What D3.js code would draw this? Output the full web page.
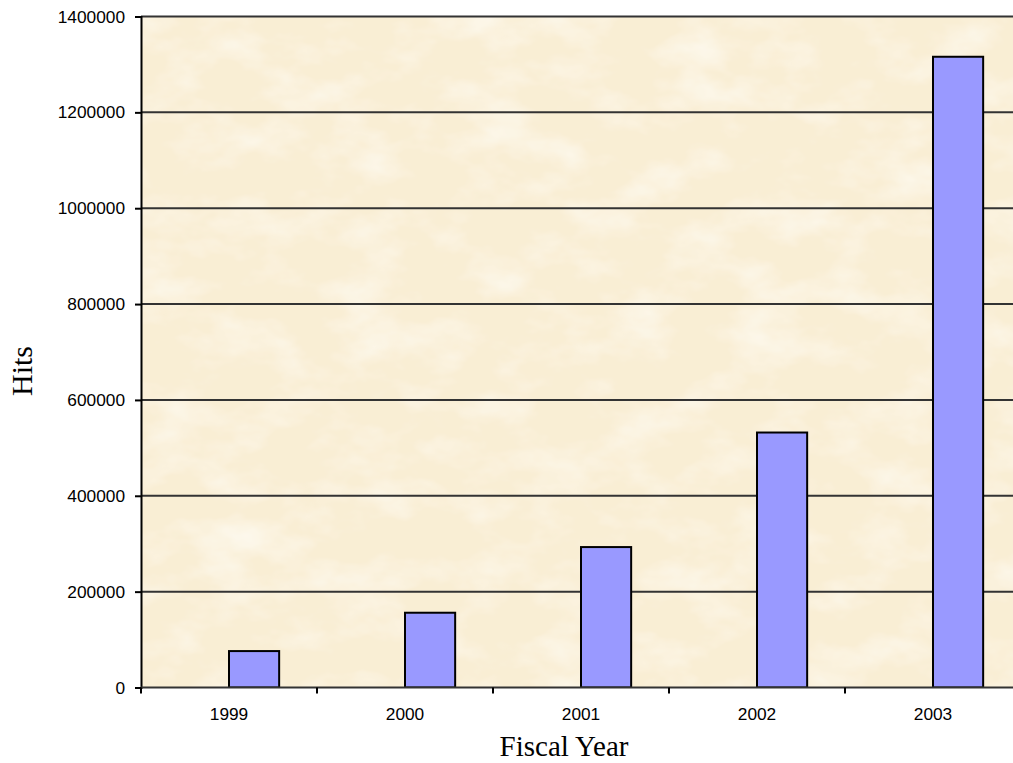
<!DOCTYPE html>
<html>
<head>
<meta charset="utf-8">
<script src="https://cdn.jsdelivr.net/npm/d3@7"></script>
<style>
  html, body { margin: 0; padding: 0; background: #fff; }
  svg { display: block; }
</style>
</head>
<body>
<svg id="chart" width="1013" height="763"></svg>
<script>
// Web site hits per fiscal year
const years = ["1999", "2000", "2001", "2002", "2003"];
const hits = [76000, 156000, 293000, 532000, 1316000];
const yTicks = [0, 200000, 400000, 600000, 800000, 1000000, 1200000, 1400000];

const svg = d3.select("#chart");
const plot = { left: 141, right: 1021, top: 16.5, bottom: 687.5 };

const x = d3.scaleBand().domain(years).range([plot.left, plot.right]).padding(0);
const y = d3.scaleLinear().domain([0, 1400000]).range([plot.bottom, plot.top]);
const barW = x.bandwidth() * 0.285;

// parchment-like background texture
const defs = svg.append("defs");
const filt = defs.append("filter").attr("id", "paper")
  .attr("x", 0).attr("y", 0).attr("width", "100%").attr("height", "100%");
filt.append("feTurbulence").attr("type", "fractalNoise")
  .attr("baseFrequency", "0.015 0.025").attr("numOctaves", 4).attr("seed", 7).attr("result", "noise");
filt.append("feColorMatrix").attr("in", "noise").attr("type", "matrix")
  .attr("values", "0 0 0 0 0.995  0 0 0 0 0.975  0 0 0 0 0.92  1.4 0 0 0 -0.62")
  .attr("result", "spots");
filt.append("feComposite").attr("in", "spots").attr("in2", "SourceGraphic").attr("operator", "atop");

const clip = defs.append("clipPath").attr("id", "plotClip");
clip.append("rect").attr("x", plot.left).attr("y", plot.top)
  .attr("width", plot.right - plot.left).attr("height", plot.bottom - plot.top);

svg.append("rect")
  .attr("x", plot.left).attr("y", plot.top)
  .attr("width", plot.right - plot.left).attr("height", plot.bottom - plot.top)
  .attr("fill", "#f9eed4")
  .attr("filter", "url(#paper)");

// horizontal gridlines
svg.append("g").selectAll("line")
  .data(yTicks.filter(d => d > 0))
  .join("line")
  .attr("x1", plot.left).attr("x2", plot.right)
  .attr("y1", d => y(d)).attr("y2", d => y(d))
  .attr("stroke", "#333").attr("stroke-width", 2);

// bars
svg.append("g").attr("clip-path", "url(#plotClip)").selectAll("rect")
  .data(years.map((c, i) => ({ c, v: hits[i] })))
  .join("rect")
  .attr("x", d => x(d.c) + x.bandwidth() / 2)
  .attr("y", d => y(d.v))
  .attr("width", barW)
  .attr("height", d => y(0) - y(d.v))
  .attr("fill", "#9999ff")
  .attr("stroke", "#000")
  .attr("stroke-width", 2);

// y axis
const yAxis = d3.axisLeft(y).tickValues(yTicks).tickFormat(d3.format("d"))
  .tickSize(6).tickPadding(10);
const gy = svg.append("g").attr("transform", `translate(${plot.left},0)`).call(yAxis);
gy.select(".domain").attr("stroke", "#000").attr("stroke-width", 2);
gy.selectAll(".tick line").attr("stroke", "#000").attr("stroke-width", 2);
gy.selectAll(".tick text")
  .attr("font-family", "'Liberation Sans', Arial, sans-serif")
  .attr("font-size", 17.3).attr("fill", "#000");

// x axis: ticks at category boundaries, labels at category centres
const gx = svg.append("g").attr("transform", `translate(0,${plot.bottom})`);
gx.append("line").attr("x1", plot.left).attr("x2", plot.right)
  .attr("y1", 0).attr("y2", 0).attr("stroke", "#333").attr("stroke-width", 2);
gx.selectAll("line.tick")
  .data(years.map(c => x(c)).concat([plot.right]))
  .join("line").attr("class", "tick")
  .attr("x1", d => d).attr("x2", d => d)
  .attr("y1", 0).attr("y2", 6)
  .attr("stroke", "#000").attr("stroke-width", 2);
gx.selectAll("text")
  .data(years)
  .join("text")
  .attr("x", d => x(d) + x.bandwidth() / 2)
  .attr("y", 32.5)
  .attr("text-anchor", "middle")
  .attr("font-family", "'Liberation Sans', Arial, sans-serif")
  .attr("font-size", 17.3).attr("fill", "#000")
  .text(d => d);

// axis titles
svg.append("text")
  .attr("transform", "translate(32,371) rotate(-90)")
  .attr("text-anchor", "middle")
  .attr("font-family", "'Liberation Serif', 'Times New Roman', serif")
  .attr("font-size", 30).attr("fill", "#000")
  .text("Hits");

svg.append("text")
  .attr("x", 564).attr("y", 756)
  .attr("text-anchor", "middle")
  .attr("font-family", "'Liberation Serif', 'Times New Roman', serif")
  .attr("font-size", 29).attr("fill", "#000")
  .text("Fiscal Year");
</script>
</body>
</html>
